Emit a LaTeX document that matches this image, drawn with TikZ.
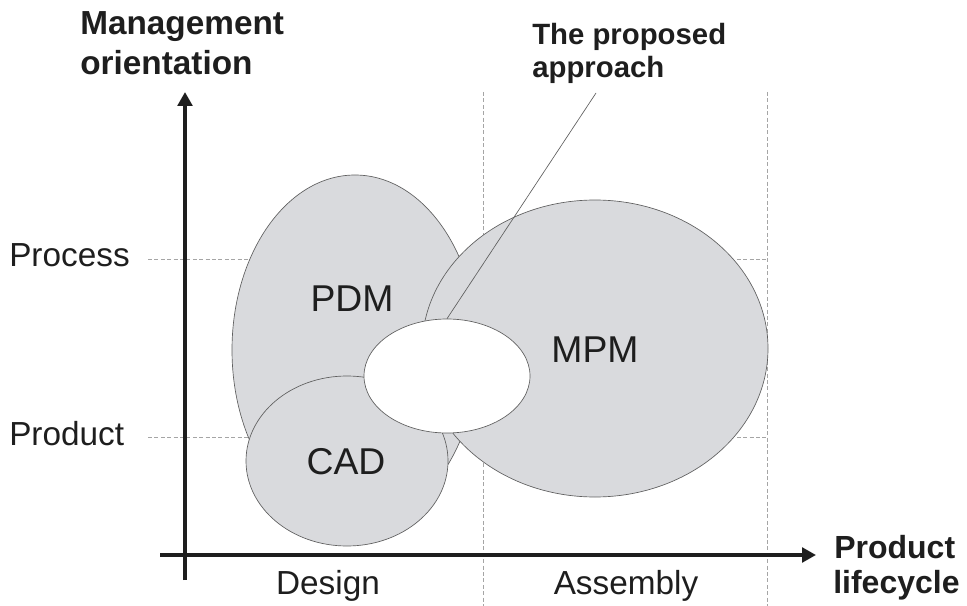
\documentclass[tikz,border=0pt]{standalone}
\usepackage{fontspec}
\setmainfont{Liberation Sans}
\usetikzlibrary{shapes.geometric,arrows.meta}
\definecolor{blobfill}{RGB}{217,218,221}
\definecolor{blobedge}{RGB}{95,95,95}
\definecolor{gridline}{RGB}{165,165,165}
\definecolor{axiscol}{RGB}{30,30,30}
\tikzset{
  blob/.style={ellipse, draw=blobedge, line width=0.5pt, fill=blobfill, inner sep=0pt},
  hole/.style={ellipse, draw=blobedge, line width=0.5pt, fill=white, inner sep=0pt},
  guide/.style={draw=gridline, line width=0.7pt, dash pattern=on 3pt off 1.8pt},
  axis/.style={draw=axiscol, line width=3pt, -{Triangle[length=10.5pt,width=11pt]}},
  axislabel/.style={font=\bfseries\fontsize{24}{28}\selectfont, anchor=base west, inner sep=0pt, text=axiscol},
  ticklabel/.style={font=\fontsize{25}{30}\selectfont, inner sep=0pt, text=axiscol},
  bloblabel/.style={font=\fontsize{28}{32}\selectfont, inner sep=0pt, text=axiscol},
  leader/.style={draw=blobedge, line width=0.5pt}
}
\begin{document}
\begin{tikzpicture}[x=0.75pt,y=-0.75pt]
\useasboundingbox (0,0) rectangle (967,606);
% guide lines
\coordinate (gpL) at (148,259);
\coordinate (gpR) at (767,259);
\coordinate (gqL) at (148,437);
\coordinate (gqR) at (767,437);
\coordinate (gdT) at (483,92);
\coordinate (gdB) at (483,606);
\coordinate (gaT) at (767,92);
\coordinate (gaB) at (767,606);
\draw[guide] (gpL) -- (gpR);
\draw[guide] (gqL) -- (gqR);
\draw[guide] (gdT) -- (gdB);
\draw[guide] (gaT) -- (gaB);
% blobs
\node[blob, minimum width=184.5pt, minimum height=262.5pt] (pdm) at (355,350) {};
\node[blob, minimum width=259.5pt, minimum height=222.75pt] (mpm) at (595,348.5) {};
\node[blob, minimum width=151.5pt, minimum height=127.5pt] (cad) at (347,461) {};
\node[hole, minimum width=124.5pt, minimum height=85.5pt] (prop) at (447,376) {};
% leader
\coordinate (lead) at (596,93);
\draw[leader] (lead) -- (prop.north);
% blob labels
\node[bloblabel] (pdmt) at (352,299) {PDM};
\node[bloblabel] (mpmt) at (595,350) {MPM};
\node[bloblabel] (cadt) at (346,462) {CAD};
% axes
\coordinate (yb) at (185,580);
\coordinate (yt) at (185,92);
\coordinate (xl) at (160,555);
\coordinate (xr) at (816,555);
\draw[axis] (yb) -- (yt);
\draw[axis] (xl) -- (xr);
% axis labels
\node[axislabel, font=\bfseries\fontsize{25}{28}\selectfont] (mo1) at (80,35) {Management};
\node[axislabel, font=\bfseries\fontsize{25}{28}\selectfont] (mo2) at (80,75) {orientation};
\node[axislabel, font=\bfseries\fontsize{22}{26}\selectfont] (tp1) at (532,45) {The proposed};
\node[axislabel, font=\bfseries\fontsize{22}{26}\selectfont] (tp2) at (532,78) {approach};
\node[axislabel] (pl1) at (834,558) {Product};
\node[axislabel] (pl2) at (833,593) {lifecycle};
% tick labels
\node[ticklabel, anchor=base west] (proc) at (9,266) {Process};
\node[ticklabel, anchor=base west] (prod) at (9,445) {Product};
\node[ticklabel, anchor=base] (des) at (328,594) {Design};
\node[ticklabel, anchor=base] (asm) at (626,594) {Assembly};
\end{tikzpicture}
\end{document}
